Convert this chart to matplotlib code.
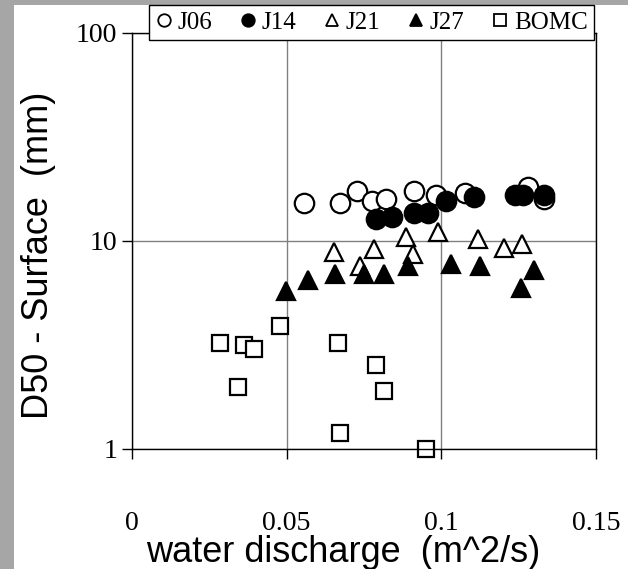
import numpy as np
import matplotlib.pyplot as plt
from matplotlib.lines import Line2D
from matplotlib.patches import Rectangle
from matplotlib.ticker import FixedLocator, FixedFormatter, NullLocator

# data
j06_q = [0.0556, 0.0672, 0.0726, 0.0775, 0.0821, 0.0912, 0.0983, 0.1077, 0.1281, 0.1332]
j06_d = [15.2, 15.2, 17.3, 15.6, 15.9, 17.3, 16.6, 17.1, 18.2, 16.0]

j14_q = [0.0789, 0.0839, 0.0912, 0.0958, 0.1015, 0.1106, 0.1238, 0.1265, 0.1332]
j14_d = [12.8, 13.0, 13.7, 13.7, 15.6, 16.2, 16.6, 16.6, 16.6]

j21_q = [0.0654, 0.0737, 0.0783, 0.0886, 0.0907, 0.0990, 0.1120, 0.1203, 0.1262]
j21_d = [8.88, 7.61, 9.12, 10.4, 8.63, 11.1, 10.2, 9.29, 9.64]

j27_q = [0.0498, 0.0570, 0.0656, 0.0751, 0.0815, 0.0893, 0.1030, 0.1125, 0.1257, 0.1301]
j27_d = [5.75, 6.49, 6.94, 6.94, 6.94, 7.58, 7.75, 7.58, 5.92, 7.26]

bomc_q = [0.0284, 0.0363, 0.0395, 0.0478, 0.0344, 0.0667, 0.0789, 0.0815, 0.0672, 0.0950]
bomc_d = [3.22, 3.15, 3.01, 3.92, 1.98, 3.22, 2.53, 1.90, 1.19, 1.0]

xticks = [0, 0.05, 0.1, 0.15]
xticklabels = ['0', '0.05', '0.1', '0.15']
yticks = [1, 10, 100]
yticklabels = ['1', '10', '100']

serif = 'Liberation Serif'
sans = 'Liberation Sans'

fig = plt.figure(figsize=(6.28, 5.69), dpi=100)
fig.patch.set_facecolor('white')
# grey frame strips (top and left)
fig.patches.append(Rectangle((0, 0), 14/628, 1, transform=fig.transFigure,
                             facecolor='#a6a6a6', edgecolor='none', zorder=0))
fig.patches.append(Rectangle((0, 1 - 5/569), 1, 5/569, transform=fig.transFigure,
                             facecolor='#a6a6a6', edgecolor='none', zorder=0))

ax = fig.add_axes([132/628, 1 - 449/569, 464/628, 416/569])
ax.set_yscale('log')
ax.set_xlim(0, 0.15)
ax.set_ylim(1, 100)

ew = 1.6
ax.plot(j06_q, j06_d, 'o', ms=14, mfc='white', mec='black', mew=ew, label='J06', clip_on=False)
ax.plot(j14_q, j14_d, 'o', ms=14, mfc='black', mec='black', mew=ew, label='J14', clip_on=False)
ax.plot(j21_q, j21_d, '^', ms=12.5, mfc='white', mec='black', mew=ew, label='J21', clip_on=False)
ax.plot(j27_q, j27_d, '^', ms=12.5, mfc='black', mec='black', mew=ew, label='J27', clip_on=False)
ax.plot(bomc_q, bomc_d, 's', ms=11.5, mfc='white', mec='black', mew=ew, label='BOMC', clip_on=False)

ax.xaxis.set_major_locator(FixedLocator(xticks))
ax.xaxis.set_major_formatter(FixedFormatter(xticklabels))
ax.yaxis.set_major_locator(FixedLocator(yticks))
ax.yaxis.set_major_formatter(FixedFormatter(yticklabels))
ax.yaxis.set_minor_locator(NullLocator())

ax.grid(True, color='#808080', linewidth=1.0)
ax.set_axisbelow(True)
for s in ax.spines.values():
    s.set_linewidth(1.0)
    s.set_color('black')

ax.tick_params(axis='x', direction='out', length=7.5, width=1.0, pad=37)
ax.tick_params(axis='y', direction='out', length=7.5, width=1.0, pad=3)
for lab in ax.get_xticklabels() + ax.get_yticklabels():
    lab.set_fontfamily(serif)
    lab.set_fontsize(20)

# axis titles placed as figure text
fig.text(343.5/628, 1 - 552/569, 'water discharge  (m^2/s)', fontfamily=sans,
         fontsize=26, ha='center', va='center')
fig.text(39/628, 1 - 255/569, 'D50 - Surface  (mm)', fontfamily=sans,
         fontsize=26, ha='center', va='center', rotation=90)

handles = [
    Line2D([], [], ls='none', marker='o', ms=9, mfc='white', mec='black', mew=1.3),
    Line2D([], [], ls='none', marker='o', ms=9, mfc='black', mec='black', mew=1.3),
    Line2D([], [], ls='none', marker='^', ms=9, mfc='white', mec='black', mew=1.3),
    Line2D([], [], ls='none', marker='^', ms=9, mfc='black', mec='black', mew=1.3),
    Line2D([], [], ls='none', marker='s', ms=9, mfc='white', mec='black', mew=1.3),
]
leg = fig.legend(handles, ['J06', 'J14', 'J21', 'J27', 'BOMC'],
                 loc='upper left', bbox_to_anchor=(149/628, 1 - 5/569, 445/628, 0),
                 ncol=5, mode='expand', frameon=True, fancybox=False,
                 edgecolor='black', framealpha=1, borderaxespad=0,
                 handlelength=0.7, handletextpad=0.2, columnspacing=0.5,
                 borderpad=0.25, prop={'family': serif, 'size': 18})
leg.get_frame().set_linewidth(1.0)

fig.savefig('out.png', dpi=100)
